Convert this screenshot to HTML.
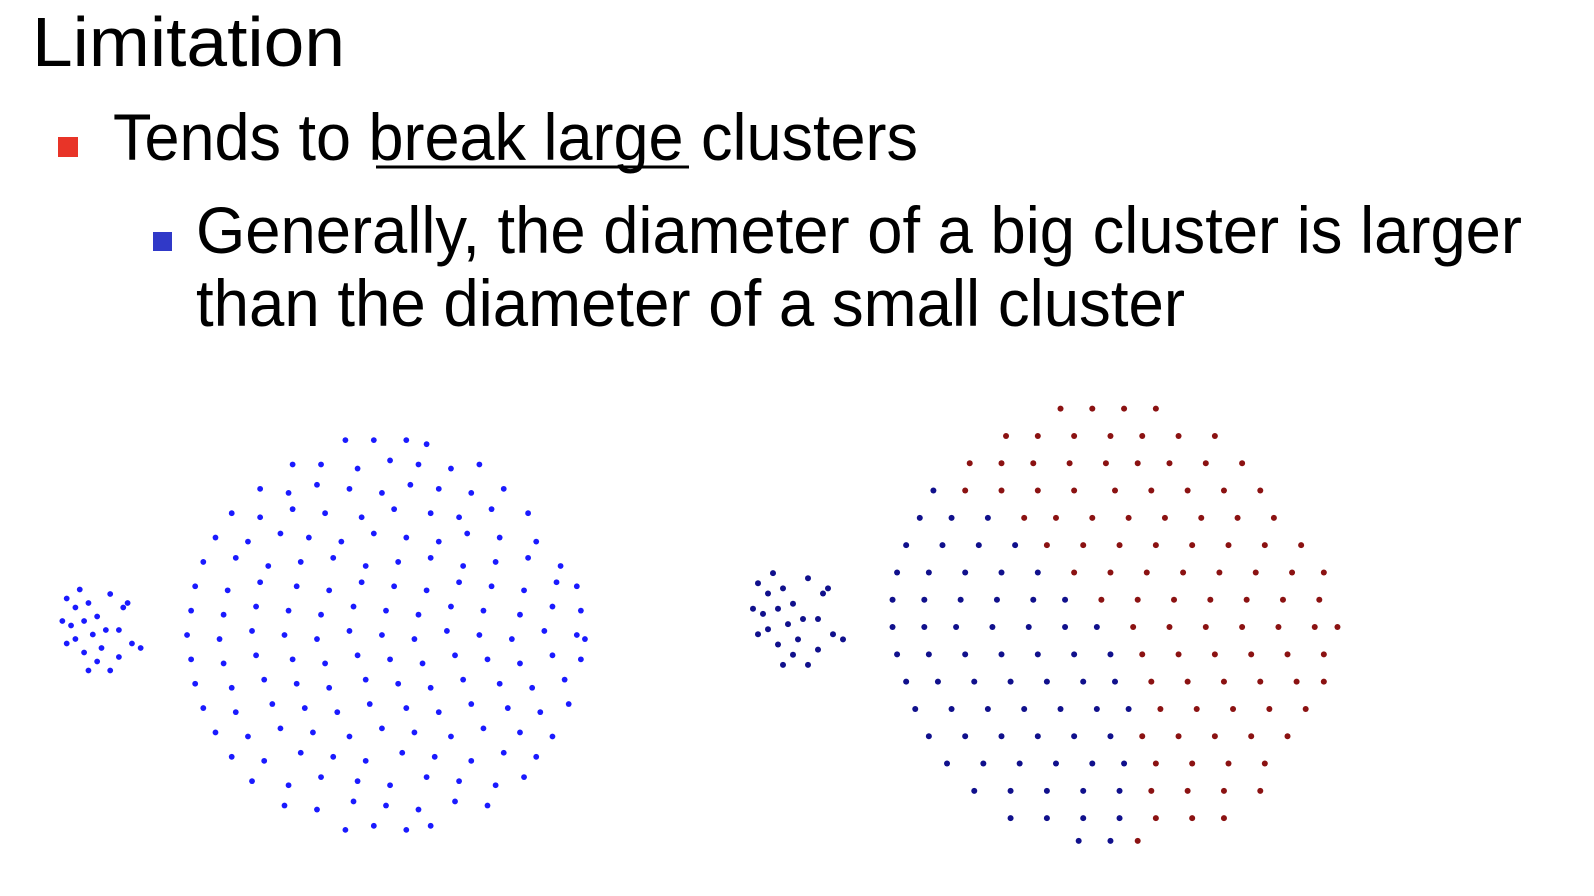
<!DOCTYPE html>
<html><head><meta charset="utf-8"><style>
html,body{margin:0;padding:0;background:#fff;}
svg{display:block;}
text{font-family:"Liberation Sans",sans-serif;fill:#000;}
</style></head><body>
<svg id="slide" width="1594" height="896" viewBox="0 0 1594 896">
<text x="32" y="66" font-size="70" textLength="313" lengthAdjust="spacingAndGlyphs">Limitation</text>
<rect x="58" y="137" width="20" height="20" fill="#e83428"/>
<text x="113" y="160" font-size="66" textLength="805" lengthAdjust="spacingAndGlyphs">Tends to break large clusters</text>
<line x1="376" y1="167" x2="689" y2="167" stroke="#000" stroke-width="3"/>
<rect x="153" y="232" width="19" height="19" fill="#3039c8"/>
<text x="196" y="253" font-size="66" textLength="1326" lengthAdjust="spacingAndGlyphs">Generally, the diameter of a big cluster is larger</text>
<text x="196" y="326" font-size="66" textLength="989" lengthAdjust="spacingAndGlyphs">than the diameter of a small cluster</text>
<g id="plots"></g>
</svg>
<script>
const leftBig = [
[40,2],[47,2],[55,2],[60,3],
[27,8],[34,8],[43,9],[51,7],[58,8],[66,9],[73,8],
[19,14],[26,15],[33,13],[41,14],[49,15],[56,13],[63,14],[71,15],[79,14],
[12,20],[19,21],[27,19],[35,20],[44,21],[52,19],[61,20],[68,21],[76,19],[85,20],
[8,26],[16,27],[24,25],[31,26],[39,27],[47,25],[55,26],[63,27],[70,25],[78,26],[87,27],
[5,32],[13,31],[21,33],[29,32],[37,31],[45,33],[53,32],[61,31],[69,33],[77,32],[85,31],[93,33],
[3,38],[11,39],[19,37],[28,38],[36,39],[44,37],[52,38],[60,39],[68,37],[76,38],[84,39],[92,37],[97,38],
[2,44],[10,45],[18,43],[26,44],[34,45],[42,43],[50,44],[58,45],[66,43],[74,44],[83,45],[91,43],[98,44],
[1,50],[9,51],[17,49],[25,50],[33,51],[41,49],[49,50],[57,51],[65,49],[73,50],[81,51],[89,49],[97,50],[99,51],
[2,56],[10,57],[18,55],[27,56],[35,57],[43,55],[51,56],[59,57],[67,55],[75,56],[83,57],[91,55],[98,56],
[3,62],[12,63],[20,61],[28,62],[36,63],[45,61],[53,62],[61,63],[69,61],[78,62],[86,63],[94,61],
[5,68],[13,69],[22,67],[30,68],[38,69],[46,67],[55,68],[63,69],[71,67],[80,68],[88,69],[95,67],
[8,74],[16,75],[24,73],[32,74],[41,75],[49,73],[57,74],[66,75],[74,73],[83,74],[91,75],
[12,80],[20,81],[29,79],[37,80],[45,81],[54,79],[62,80],[71,81],[79,79],[87,80],
[17,86],[26,87],[34,85],[43,86],[51,87],[60,85],[68,86],[77,87],[84,85],
[25,92],[33,93],[42,91],[50,92],[58,93],[67,91],[75,92],
[40,98],[47,97],[55,98],[61,97]
];
const smallPts = [
[10,15],[25,5],[20,25],[35,20],[5,40],[15,45],[30,40],[45,35],[60,10],[75,25],[80,20],[55,50],
[40,55],[20,60],[10,65],[30,75],[45,85],[70,80],[85,65],[95,70],[60,95],[35,95],[50,70],[70,50]
];
const rightBlue = [
[10,21],[7,27],[14,27],[22,27],[4,33],[12,33],[20,33],[28,33],
[2,39],[9,39],[17,39],[25,39],[33,39],[1,45],[8,45],[16,45],[24,45],[32,45],[39,45],
[1,51],[8,51],[15,51],[23,51],[31,51],[39,51],[46,51],
[2,57],[9,57],[17,57],[25,57],[33,57],[41,57],[49,57],
[4,63],[11,63],[19,63],[27,63],[35,63],[43,63],[50,63],
[6,69],[14,69],[22,69],[30,69],[38,69],[46,69],[53,69],
[9,75],[17,75],[25,75],[33,75],[41,75],[49,75],
[13,81],[21,81],[29,81],[37,81],[45,81],[52,81],
[19,87],[27,87],[35,87],[43,87],[51,87],
[27,93],[35,93],[43,93],[51,93],[42,98],[49,98]
];
const rightRed = [
[38,3],[45,3],[52,3],[59,3],
[26,9],[33,9],[41,9],[49,9],[56,9],[64,9],[72,9],
[18,15],[25,15],[32,15],[40,15],[48,15],[55,15],[62,15],[70,15],[78,15],
[17,21],[25,21],[33,21],[41,21],[50,21],[58,21],[66,21],[74,21],[82,21],
[30,27],[37,27],[45,27],[53,27],[61,27],[69,27],[77,27],[85,27],
[35,33],[43,33],[51,33],[59,33],[67,33],[75,33],[83,33],[91,33],
[41,39],[49,39],[57,39],[65,39],[73,39],[81,39],[89,39],[96,39],
[47,45],[55,45],[63,45],[71,45],[79,45],[87,45],[95,45],
[54,51],[62,51],[70,51],[78,51],[86,51],[94,51],[99,51],
[56,57],[64,57],[72,57],[80,57],[88,57],[96,57],
[58,63],[66,63],[74,63],[82,63],[90,63],[96,63],
[60,69],[68,69],[76,69],[84,69],[92,69],
[56,75],[64,75],[72,75],[80,75],[88,75],
[59,81],[67,81],[75,81],[83,81],
[58,87],[66,87],[74,87],[82,87],
[59,93],[67,93],[74,93],[55,98]
];

const NS = 'http://www.w3.org/2000/svg';
const g = document.getElementById('plots');
function axis(x0, y0, w, h) {
  return { sx: v => x0 + v / 100 * w, sy: v => y0 + v / 100 * h };
}
function drawSet(pts, ax, color, r, name) {
  const grp = document.createElementNS(NS, 'g');
  
  
  for (const p of pts) {
    const c = document.createElementNS(NS, 'circle');
    c.setAttribute('cx', ax.sx(p[0]));
    c.setAttribute('cy', ax.sy(p[1]));
    c.setAttribute('r', r);
    c.setAttribute('fill', color);
    
    
    grp.appendChild(c);
  }
  g.appendChild(grp);
}
drawSet(leftBig, axis(183, 432, 406, 406), '#1a1aff', 2.9, 'left-big-cluster');
drawSet(smallPts, axis(58, 585, 87, 90), '#1a1aff', 2.9, 'left-small-cluster');
drawSet(rightBlue, axis(888, 395, 454, 455), '#10108c', 3, 'right-blue-cluster');
drawSet(rightRed, axis(888, 395, 454, 455), '#8b1212', 3, 'right-red-cluster');
drawSet(smallPts, axis(748, 568, 100, 102), '#10108c', 3, 'right-small-cluster');
</script>
</body></html>
